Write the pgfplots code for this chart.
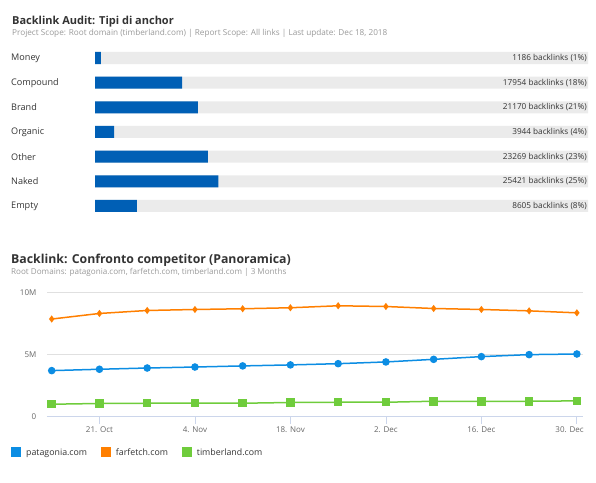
\documentclass[border=0pt]{standalone}
\usepackage{fontspec}
\setmainfont{Open Sans}
\newfontfamily\tickfont{Open Sans}
\usepackage{pgfplots}
\pgfplotsset{compat=1.18}
\definecolor{barblue}{HTML}{005FB5}
\definecolor{track}{HTML}{EBEBEB}
\definecolor{pat}{HTML}{0C8DE3}
\definecolor{far}{HTML}{FF7F00}
\definecolor{tim}{HTML}{6FCC3C}
\definecolor{gridc}{HTML}{E0E0E0}
\definecolor{axline}{HTML}{CCD6EB}
\definecolor{txt}{HTML}{333333}
\definecolor{subc}{HTML}{999999}
\definecolor{ticktxt}{HTML}{666666}

\begin{document}
\begin{tikzpicture}
\useasboundingbox (0pt,0pt) rectangle (596pt,482pt);
% ---------- top chart titles
\node[anchor=base west, inner sep=0, font=\fontsize{11}{13}\selectfont\bfseries, text=txt] at (12pt,457.5pt) {Backlink Audit: Tipi di anchor};
\node[anchor=base west, inner sep=0, font=\fontsize{8.2}{10}\selectfont, text=subc] at (12pt,446.5pt) {Project Scope: Root domain (timberland.com) | Report Scope: All links | Last update: Dec 18, 2018};

\begin{axis}[
  at={(95pt,263.67pt)}, anchor=south west, scale only axis,
  width=493pt, height=172.67pt,
  xmin=0, xmax=100, ymin=-0.5, ymax=6.5, y dir=reverse,
  axis line style={draw=none}, tick style={draw=none},
  xtick=\empty,
  ytick={0,1,2,3,4,5,6},
  yticklabels={Money,Compound,Brand,Organic,Other,Naked,Empty},
  yticklabel style={anchor=west, xshift=-84pt, inner sep=0pt, font=\fontsize{9.1}{11}\selectfont, text=txt},
  clip=false,
]
\addplot[xbar, bar width=12pt, bar shift=0pt, fill=track, draw=none] coordinates {
 (100,0) (100,1) (100,2) (100,3) (100,4) (100,5) (100,6)};
\addplot[xbar, bar width=12pt, bar shift=0pt, fill=barblue, draw=none] coordinates {
 (1.168,0) (17.680,1) (20.847,2) (3.884,3) (22.914,4) (25.033,5) (8.474,6)};
\begin{scope}[every node/.style={anchor=east, inner sep=1pt, font=\fontsize{8.2}{10}\selectfont, text=txt}]
\node at (axis cs:100,0) {1186 backlinks (1\%)};
\node at (axis cs:100,1) {17954 backlinks (18\%)};
\node at (axis cs:100,2) {21170 backlinks (21\%)};
\node at (axis cs:100,3) {3944 backlinks (4\%)};
\node at (axis cs:100,4) {23269 backlinks (23\%)};
\node at (axis cs:100,5) {25421 backlinks (25\%)};
\node at (axis cs:100,6) {8605 backlinks (8\%)};
\end{scope}
\end{axis}

% ---------- bottom chart titles
\node[anchor=base west, inner sep=0, font=\fontsize{12.3}{15}\selectfont\bfseries, text=txt] at (11pt,218pt) {Backlink: Confronto competitor (Panoramica)};
\node[anchor=base west, inner sep=0, font=\fontsize{8.1}{10}\selectfont, text=subc] at (11pt,207.5pt) {Root Domains: patagonia.com, farfetch.com, timberland.com | 3 Months};

\begin{axis}[
  at={(47pt,65.5pt)}, anchor=south west, scale only axis,
  width=536pt, height=124pt,
  xmin=-0.69, xmax=77.9, ymin=0, ymax=10,
  axis x line=bottom, axis y line=left,
  x axis line style={axline, line width=1pt, -},
  y axis line style={draw=none},
  ytick={0,5,10}, yticklabels={0,5M,10M},
  ytick style={draw=none},
  ymajorgrids, grid style={gridc, line width=0.8pt},
  yticklabel style={anchor=east, inner sep=0pt, xshift=-3pt, font=\tickfont\fontsize{8}{10}\selectfont, text=ticktxt},
  xtick={7,21,35,49,63},
  xticklabels={21. Oct,4. Nov,18. Nov,2. Dec,16. Dec},
  extra x ticks={77}, extra x tick labels={30. Dec},
  extra x tick style={xticklabel style={anchor=north east, xshift=7pt}},
  tick align=outside, major tick length=7.5pt,
  xtick style={axline, line width=0.8pt},
  xticklabel style={inner sep=0pt, yshift=-2.5pt, font=\tickfont\fontsize{8}{10}\selectfont, text=ticktxt},
  clip=false,
]
\addplot[far, line width=1.5pt, mark=diamond*, mark size=2.4pt, mark options={fill=far, draw=far}] coordinates {
 (0,7.86) (7,8.31) (14,8.55) (21,8.63) (28,8.69) (35,8.77) (42,8.93) (49,8.87) (56,8.71) (63,8.63) (70,8.52) (77,8.36)};
\addplot[pat, line width=1.5pt, mark=*, mark size=3pt, mark options={fill=pat, draw=pat}] coordinates {
 (0,3.70) (7,3.81) (14,3.91) (21,3.99) (28,4.08) (35,4.16) (42,4.26) (49,4.40) (56,4.61) (63,4.83) (70,4.99) (77,5.04)};
\addplot[tim, line width=1.5pt, mark=square*, mark size=3.5pt, mark options={fill=tim, draw=tim}] coordinates {
 (0,0.99) (7,1.05) (14,1.07) (21,1.07) (28,1.07) (35,1.13) (42,1.15) (49,1.15) (56,1.23) (63,1.23) (70,1.23) (77,1.26)};
\end{axis}

% ---------- legend
\fill[pat] (11pt,25.5pt) rectangle (20.5pt,35pt);
\fill[far] (100.7pt,25.5pt) rectangle (110.5pt,35pt);
\fill[tim] (182pt,25.5pt) rectangle (192pt,35pt);
\begin{scope}[every node/.style={anchor=base west, inner sep=0pt, font=\fontsize{8.8}{10}\selectfont, text=txt}]
\node at (26pt,26.8pt) {patagonia.com};
\node at (115.7pt,26.8pt) {farfetch.com};
\node at (196.7pt,26.8pt) {timberland.com};
\end{scope}
\end{tikzpicture}
\end{document}
